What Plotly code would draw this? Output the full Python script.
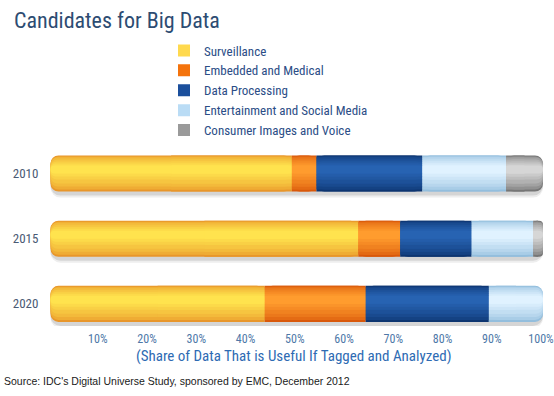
import plotly.graph_objects as go

# ---- data -------------------------------------------------------------
years = ["2010", "2015", "2020"]
series_names = [
    "Surveillance",
    "Embedded and Medical",
    "Data Processing",
    "Entertainment and Social Media",
    "Consumer Images and Voice",
]
surveillance = [49.0, 62.5, 43.5]
embedded_medical = [5.0, 8.5, 20.5]
data_processing = [21.5, 14.5, 25.0]
entertainment_social = [17.0, 12.5, 11.0]
consumer_images_voice = [7.5, 2.0, 0.0]
x_tick_values = [10, 20, 30, 40, 50, 60, 70, 80, 90, 100]
x_tick_labels = ["10%", "20%", "30%", "40%", "50%", "60%", "70%", "80%", "90%", "100%"]

series_values = [surveillance, embedded_medical, data_processing,
                 entertainment_social, consumer_images_voice]

# rim colour and highlight colour of each cylinder
rim_colors = ["#E8962A", "#D9580A", "#0D3570", "#93BEDD", "#767676"]
highlight_colors = ["#FFE34E", "#FF9C2E", "#2763B2", "#E0F2FF", "#D6D6D6"]
legend_colors = ["#FFD94E", "#F4730C", "#1B4F9C", "#BADCF5", "#9A9A9A"]

# ---- layout geometry ------------------------------------------------------
W, H = 554, 396
M_L, M_R, M_T, M_B = 50, 9, 141, 70
ROW_PX = 65.0                       # pixels per category step
# nested shading bands (bottom, top) in pixels around the row centre
BAND_PX = [(-18, 18), (-16, 17), (-13, 16), (-10, 14), (-6, 12), (-3, 10), (0, 8)]
RADII = [8, 8, 7, 7, 6, 5, 4]

plot_w = W - M_L - M_R
plot_h = H - M_T - M_B


def px_to_paper(px, py):
    return (px - M_L) / plot_w, (H - M_B - py) / plot_h


def mix(c1, c2, t):
    a = [int(c1[i:i + 2], 16) for i in (1, 3, 5)]
    b = [int(c2[i:i + 2], 16) for i in (1, 3, 5)]
    return "#" + "".join(f"{round(x + (y - x) * t):02X}" for x, y in zip(a, b))


fig = go.Figure()

# starting position of every segment
starts = []
running = [0.0] * len(years)
for vals in series_values:
    starts.append(list(running))
    running = [r + v for r, v in zip(running, vals)]
totals = running

first_idx, last_idx = [], []
for r in range(len(years)):
    nz = [i for i, vals in enumerate(series_values) if vals[r] > 0]
    first_idx.append(nz[0])
    last_idx.append(nz[-1])

# soft shadow under each bar
for sh_lo, sh_hi, sh_col in [(-24, 8, "rgba(90,90,90,0.10)"), (-22, 8, "rgba(90,90,90,0.16)")]:
    fig.add_trace(go.Bar(
        y=years, x=totals, base=[0] * len(years), orientation="h",
        width=(sh_hi - sh_lo) / ROW_PX, offset=sh_lo / ROW_PX,
        marker=dict(color=sh_col, cornerradius=10, line_width=0),
        showlegend=False, hoverinfo="skip"))

n_bands = len(BAND_PX)
for b, (lo, hi) in enumerate(BAND_PX):
    width = (hi - lo) / ROW_PX
    offset = lo / ROW_PX
    t = (b / (n_bands - 1)) ** 0.7
    for s, vals in enumerate(series_values):
        col = mix(rim_colors[s], highlight_colors[s], t)
        # rounded pass (gives the round ends of each cylinder)
        fig.add_trace(go.Bar(
            y=years, x=vals, base=starts[s], orientation="h",
            width=width, offset=offset,
            marker=dict(color=col, cornerradius=RADII[b], line_width=0),
            showlegend=False, hoverinfo="skip"))
    for s, vals in enumerate(series_values):
        col = mix(rim_colors[s], highlight_colors[s], t)
        # flat pass covering the joins between segments
        fb, fx = [], []
        for r in range(len(years)):
            st, v = starts[s][r], vals[r]
            lo_cut = v / 2 if s == first_idx[r] else 0.0
            hi_cut = v / 2 if s == last_idx[r] else 0.0
            fb.append(st + lo_cut)
            fx.append(max(v - lo_cut - hi_cut, 0.0))
        fig.add_trace(go.Bar(
            y=years, x=fx, base=fb, orientation="h",
            width=width, offset=offset,
            marker=dict(color=col, line_width=0),
            showlegend=False, hoverinfo="skip"))

# legend entries
for s, name in enumerate(series_names):
    fig.add_trace(go.Bar(
        y=[years[0]], x=[0], orientation="h", name=name,
        marker=dict(color=legend_colors[s], line_width=0),
        legendrank=s + 1, hoverinfo="skip"))

narrow = "Liberation Sans Narrow, Arial Narrow, Roboto Condensed, sans-serif"

x0 = -0.5 / 4.925
x1 = (plot_w - 0.5) / 4.925

fig.update_layout(
    width=W, height=H,
    margin=dict(l=M_L, r=M_R, t=M_T, b=M_B, autoexpand=False),
    paper_bgcolor="white", plot_bgcolor="white",
    barmode="overlay",
    showlegend=True,
    legend=dict(
        xref="container", yref="container",
        x=164 / W, y=1 - 35.5 / H, xanchor="left", yanchor="top",
        font=dict(family=narrow, size=13, color="#2B4D86"),
        itemwidth=30, bgcolor="rgba(0,0,0,0)", traceorder="normal"),
    xaxis=dict(
        range=[x0, x1], tickvals=x_tick_values, ticktext=x_tick_labels,
        tickangle=0, automargin=False, ticklabeloverflow="allow",
        ticklabelshift=-2,
        showgrid=False, zeroline=False, showline=False,
        ticks="outside", ticklen=2, tickcolor="rgba(0,0,0,0)",
        tickfont=dict(family=narrow, size=12, color="#4E78A8")),
    yaxis=dict(
        type="category", categoryorder="array",
        categoryarray=["2020", "2015", "2010"],
        range=[-0.34, 2.5], automargin=False,
        showgrid=False, zeroline=False, showline=False,
        ticks="outside", ticklen=8, tickcolor="rgba(0,0,0,0)",
        tickfont=dict(family=narrow, size=13, color="#4A5A74")),
)

tx, ty = px_to_paper(12, 20)
fig.add_annotation(x=tx, y=ty, xref="paper", yref="paper",
                   xanchor="left", yanchor="middle", showarrow=False,
                   text="Candidates for Big Data",
                   font=dict(family=narrow, size=22, color="#2D4C72"))
ax, ay = px_to_paper(293, 356)
fig.add_annotation(x=ax, y=ay, xref="paper", yref="paper",
                   xanchor="center", yanchor="middle", showarrow=False,
                   text="(Share of Data That is Useful If Tagged and Analyzed)",
                   font=dict(family=narrow, size=15, color="#2E6BB3"))
sx, sy = px_to_paper(2, 381)
fig.add_annotation(x=sx, y=sy, xref="paper", yref="paper",
                   xanchor="left", yanchor="middle", showarrow=False,
                   text="Source: IDC's Digital Universe Study, sponsored by EMC, December 2012",
                   font=dict(family="Liberation Sans, Arial, sans-serif", size=10.5, color="#1A1A1A"))

fig.write_html("out.html")
